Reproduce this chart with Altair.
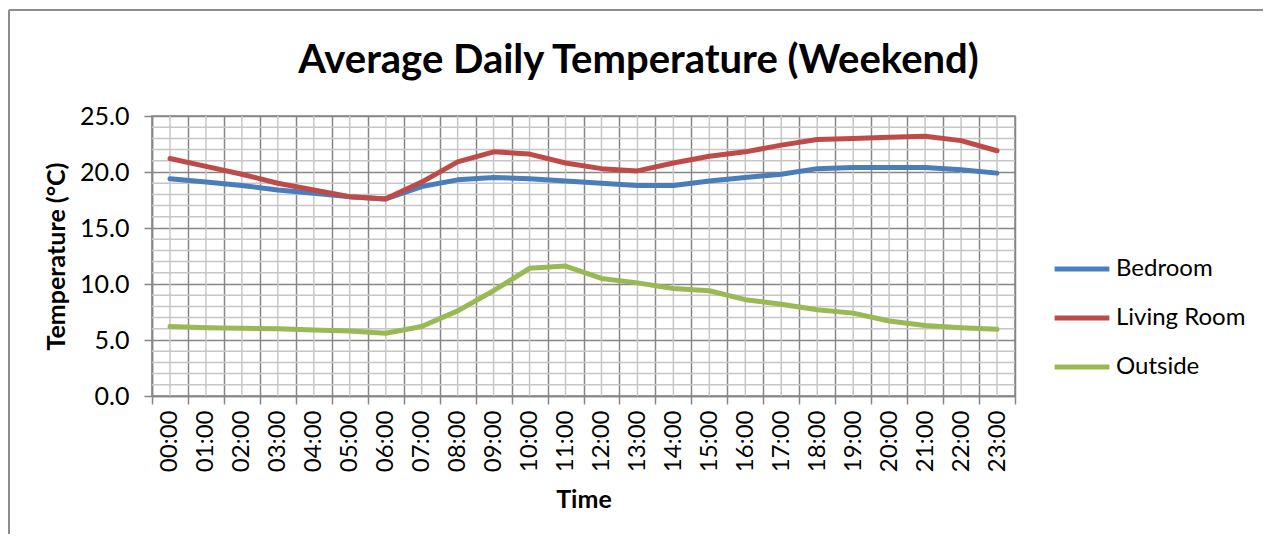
import altair as alt
import pandas as pd

hours = ["00:00", "01:00", "02:00", "03:00", "04:00", "05:00", "06:00", "07:00",
         "08:00", "09:00", "10:00", "11:00", "12:00", "13:00", "14:00", "15:00",
         "16:00", "17:00", "18:00", "19:00", "20:00", "21:00", "22:00", "23:00"]
bedroom = [19.4, 19.1, 18.8, 18.4, 18.1, 17.8, 17.6, 18.7, 19.3, 19.5, 19.4, 19.2,
           19.0, 18.8, 18.8, 19.2, 19.5, 19.8, 20.3, 20.4, 20.4, 20.4, 20.2, 19.9]
living_room = [21.2, 20.5, 19.8, 19.0, 18.4, 17.8, 17.6, 19.1, 20.9, 21.8, 21.6, 20.8,
               20.3, 20.1, 20.8, 21.4, 21.8, 22.4, 22.9, 23.0, 23.1, 23.2, 22.8, 21.9]
outside = [6.2, 6.1, 6.05, 6.0, 5.9, 5.8, 5.6, 6.2, 7.6, 9.4, 11.4, 11.6,
           10.5, 10.1, 9.6, 9.4, 8.6, 8.2, 7.7, 7.4, 6.7, 6.3, 6.1, 5.95]
series_names = ["Bedroom", "Living Room", "Outside"]
series_colors = ["#4A7EBB", "#BE4B48", "#98B954"]
major_y = [0, 5, 10, 15, 20, 25]
minor_y = [1, 2, 3, 4, 6, 7, 8, 9, 11, 12, 13, 14, 16, 17, 18, 19, 21, 22, 23, 24]

FONT = "Lato"
DARK = "#868686"
LIGHT = "#C6C6C6"

rows = []
for name, vals in zip(series_names, [bedroom, living_room, outside]):
    for h, v in zip(hours, vals):
        rows.append({"time": h, "temp": v, "series": name})
df = pd.DataFrame(rows)

xscale = alt.Scale(type="band", paddingInner=0, paddingOuter=0)
yscale = alt.Scale(domain=[0, 25], nice=False)

x_axis = alt.Axis(title="Time", titleFont=FONT, titleFontSize=25, titleFontWeight="bold",
                  titleColor="#000000", titlePadding=16,
                  labelAngle=270, labelAlign="right", labelBaseline="middle",
                  labelFont=FONT, labelFontSize=24, labelColor="#000000", labelPadding=6,
                  tickBand="extent", grid=True, gridColor=DARK, gridWidth=1.5,
                  tickColor=DARK, tickSize=8, tickWidth=1.5, domainColor=DARK, domainWidth=1.5)
y_axis = alt.Axis(title="Temperature (°C)", titleFont=FONT, titleFontSize=25,
                  titleFontWeight="bold", titleColor="#000000", titlePadding=10,
                  values=major_y, format=".1f", labelFont=FONT, labelFontSize=25,
                  labelColor="#000000", labelPadding=15,
                  grid=True, gridColor=DARK, gridWidth=1.5, tickColor=DARK, tickSize=8,
                  tickWidth=1.5, domainColor=DARK, domainWidth=1.5)

minor_h = alt.Chart(pd.DataFrame({"temp": minor_y})).mark_rule(
    color=LIGHT, strokeWidth=1.5).encode(y=alt.Y("temp:Q", scale=yscale, axis=y_axis))

minor_v = alt.Chart(pd.DataFrame({"time": hours})).mark_rule(
    color=LIGHT, strokeWidth=1.5).encode(
    x=alt.X("time:N", sort=hours, scale=xscale, bandPosition=0.5, axis=x_axis))

lines = alt.Chart(df).mark_line(strokeWidth=5, strokeJoin="round", strokeCap="round").encode(
    x=alt.X("time:N", sort=hours, scale=xscale, bandPosition=0.5, axis=x_axis),
    y=alt.Y("temp:Q", scale=yscale, axis=y_axis),
    color=alt.Color("series:N", sort=series_names,
                    scale=alt.Scale(domain=series_names, range=series_colors),
                    legend=alt.Legend(title=None, orient="none", legendX=900, legendY=123,
                                      symbolType="stroke", symbolSize=3000,
                                      symbolStrokeWidth=5, labelFont=FONT,
                                      labelFontSize=24, labelColor="#000000",
                                      labelOffset=4, rowPadding=7, padding=0)),
    detail="series:N",
)

border = alt.Chart(pd.DataFrame({"a": [0]})).mark_rule(color="#8C8C8C", strokeWidth=2).encode(
    x=alt.value(-143), x2=alt.value(1130), y=alt.value(-106))
border_left = alt.Chart(pd.DataFrame({"a": [0]})).mark_rule(color="#8C8C8C", strokeWidth=2).encode(
    x=alt.value(-143), y=alt.value(-106), y2=alt.value(440))

chart = alt.layer(minor_h, minor_v, lines, border, border_left).properties(
    width=863, height=280,
    title=alt.TitleParams("Average Daily Temperature (Weekend)", font=FONT, fontSize=40,
                          fontWeight="bold", color="#000000", anchor="middle", dx=55,
                          offset=36, dy=108),
    autosize=alt.AutoSizeParams(type="none"),
    padding={"left": 144, "top": 108, "right": 248, "bottom": 138},
).configure_view(stroke=DARK, strokeWidth=1.5)

chart.save("out.html", embed_options={"renderer": "svg", "actions": False})
